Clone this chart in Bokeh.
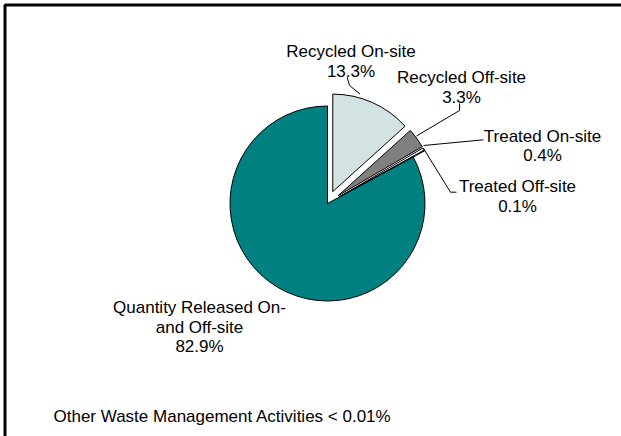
import math
from bokeh.plotting import figure
from bokeh.embed import file_html
from bokeh.resources import INLINE
from bokeh.core.properties import value

# ---- data ----
categories = ["Recycled On-site", "Recycled Off-site", "Treated On-site",
              "Treated Off-site", "Quantity Released On-site and Off-site"]
percents = [13.3, 3.3, 0.4, 0.1, 82.9]
colors = ["#D3E3E3", "#808080", "#FFFFFF", "#FFFFFF", "#008080"]
label_lines = [["Recycled On-site"], ["Recycled Off-site"], ["Treated On-site"],
               ["Treated Off-site"], ["Quantity Released On-", "and Off-site"]]
footnote = "Other Waste Management Activities < 0.01%"

W, H = 621, 436
FONT = value("Liberation Sans")


def Y(py):
    return H - py


p = figure(width=W, height=H, x_range=(0, W), y_range=(0, H),
           x_axis_location=None, y_axis_location=None,
           toolbar_location=None, output_backend="svg", min_border=0)
p.grid.visible = False
p.outline_line_color = None
p.background_fill_color = "white"

# frame (left and top edges visible)
p.line(x=[4.5, 4.5, W + 10], y=[Y(H + 10), Y(4.5), Y(4.5)],
       line_color="black", line_width=3)

# ---- pie ----
cx, cy, R = 327.0, 203.0, 97.5
explode = 13.0
total = sum(percents)
xs, ys, starts, ends = [], [], [], []
cum = 0.0
for i, v in enumerate(percents):
    t1 = cum / total * 360.0
    t2 = (cum + v) / total * 360.0
    cum += v
    mid = math.radians((t1 + t2) / 2)
    d = 0.0 if i == len(percents) - 1 else explode
    px = cx + d * math.sin(mid)
    py = cy - d * math.cos(mid)
    xs.append(px)
    ys.append(Y(py))
    starts.append(math.radians(90 - t1))
    ends.append(math.radians(90 - t2))

p.wedge(x=xs, y=ys, radius=R, start_angle=starts, end_angle=ends,
        direction="clock", fill_color=colors, line_color="black", line_width=1)

# ---- leader lines (pixel coords) ----
leaders = [
    [(346.7, 76.7), (349.0, 85.0), (359.5, 93.5)],
    [(459.0, 103.0), (459.0, 110.0), (416.0, 135.5)],
    [(483.0, 139.3), (423.0, 145.0)],
    [(456.0, 191.7), (450.0, 191.7), (423.0, 148.0)],
]
p.multi_line(xs=[[a for a, b in L] for L in leaders],
             ys=[[Y(b) for a, b in L] for L in leaders],
             line_color="black", line_width=1)

# ---- labels ----
anchors = [(350.5, 51.0), (461.0, 77.0), (542.0, 135.5), (517.0, 186.0), (199.0, 307.3)]
LH = 19.5
tx, ty, tt = [], [], []
for (ax, ay), lines, v in zip(anchors, label_lines, percents):
    all_lines = lines + [f"{v:.1f}%"]
    for k, s in enumerate(all_lines):
        tx.append(ax)
        ty.append(Y(ay + k * LH))
        tt.append(s)
p.text(x=tx, y=ty, text=tt, text_align="center", text_baseline="alphabetic",
       text_font=FONT, text_font_size="17px", text_color="black")

p.text(x=[53], y=[Y(416)], text=[footnote], text_align="left",
       text_baseline="alphabetic", text_font=FONT, text_font_size="17px",
       text_color="black")

open("out.html", "w").write(file_html(p, INLINE))
